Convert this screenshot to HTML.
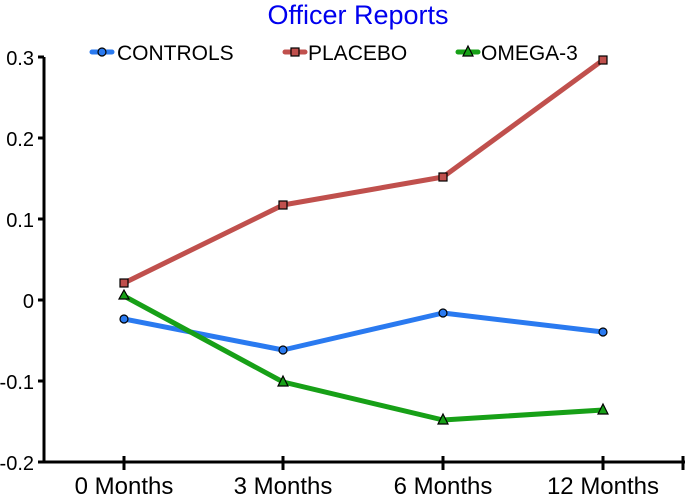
<!DOCTYPE html>
<html><head><style>body{margin:0;background:#fff}svg{display:block}</style></head><body>
<svg width="685" height="496" xmlns="http://www.w3.org/2000/svg" font-family="Liberation Sans, sans-serif">
<text x="358" y="24" font-size="27" fill="#0000ee" text-anchor="middle">Officer Reports</text>
<g stroke="#000" stroke-width="3">
<line x1="44" y1="57" x2="44" y2="463"/>
<line x1="43" y1="462" x2="685" y2="462"/>
<line x1="38" y1="57" x2="44" y2="57"/><line x1="38" y1="138" x2="44" y2="138"/><line x1="38" y1="219" x2="44" y2="219"/><line x1="38" y1="300" x2="44" y2="300"/><line x1="38" y1="381" x2="44" y2="381"/><line x1="38" y1="462" x2="44" y2="462"/>
<line x1="124" y1="456" x2="124" y2="470"/><line x1="283" y1="456" x2="283" y2="470"/><line x1="443" y1="456" x2="443" y2="470"/><line x1="603" y1="456" x2="603" y2="470"/><line x1="683" y1="456" x2="683" y2="470"/>
</g>
<g font-size="20" text-anchor="end" fill="#000">
<text x="34" y="65">0.3</text><text x="34" y="146">0.2</text><text x="34" y="227">0.1</text><text x="34" y="308">0</text><text x="34" y="389">-0.1</text><text x="34" y="470">-0.2</text>
</g>
<g font-size="24" text-anchor="middle" fill="#000">
<text x="124" y="494">0 Months</text><text x="283" y="494">3 Months</text><text x="443" y="494">6 Months</text><text x="603" y="494">12 Months</text>
</g>
<g fill="none" stroke-width="5" stroke-linejoin="round">
<polyline stroke="#2a7af0" points="124,319 283,350 443,313 603,332"/>
<polyline stroke="#c0504d" points="124,283 283,205 443,177 603,60"/>
<polyline stroke="#17a017" points="124,296 283,382 443,420 603,410"/>
</g>
<g fill="#2a7af0" stroke="#000" stroke-width="1.2">
<circle cx="124" cy="319" r="4"/><circle cx="283" cy="350" r="4"/><circle cx="443" cy="313" r="4"/><circle cx="603" cy="332" r="4"/>
</g>
<g fill="#c0504d" stroke="#000" stroke-width="1.2">
<rect x="120" y="279" width="8" height="8"/><rect x="279" y="201" width="8" height="8"/><rect x="439" y="173" width="8" height="8"/><rect x="599" y="56" width="8" height="8"/>
</g>
<g fill="#17a017" stroke="#000" stroke-width="1.2">
<polygon points="124,290 129,299 119,299"/><polygon points="283,376 288,386 278,386"/><polygon points="443,414 448,424 438,424"/><polygon points="603,404 608,414 598,414"/>
</g>
<g font-size="21" fill="#000">
<line x1="92" y1="52" x2="112" y2="52" stroke="#2a7af0" stroke-width="5" stroke-linecap="round"/>
<circle cx="102" cy="52" r="4" fill="#2a7af0" stroke="#000" stroke-width="1.2"/>
<text x="117" y="60">CONTROLS</text>
<line x1="285" y1="52" x2="305" y2="52" stroke="#c0504d" stroke-width="5" stroke-linecap="round"/>
<rect x="291" y="48" width="8" height="8" fill="#c0504d" stroke="#000" stroke-width="1.2"/>
<text x="308" y="60">PLACEBO</text>
<line x1="458" y1="52" x2="478" y2="52" stroke="#17a017" stroke-width="5" stroke-linecap="round"/>
<polygon points="468,46 473,56 463,56" fill="#17a017" stroke="#000" stroke-width="1.2"/>
<text x="481" y="60">OMEGA-3</text>
</g>
</svg>
</body></html>
